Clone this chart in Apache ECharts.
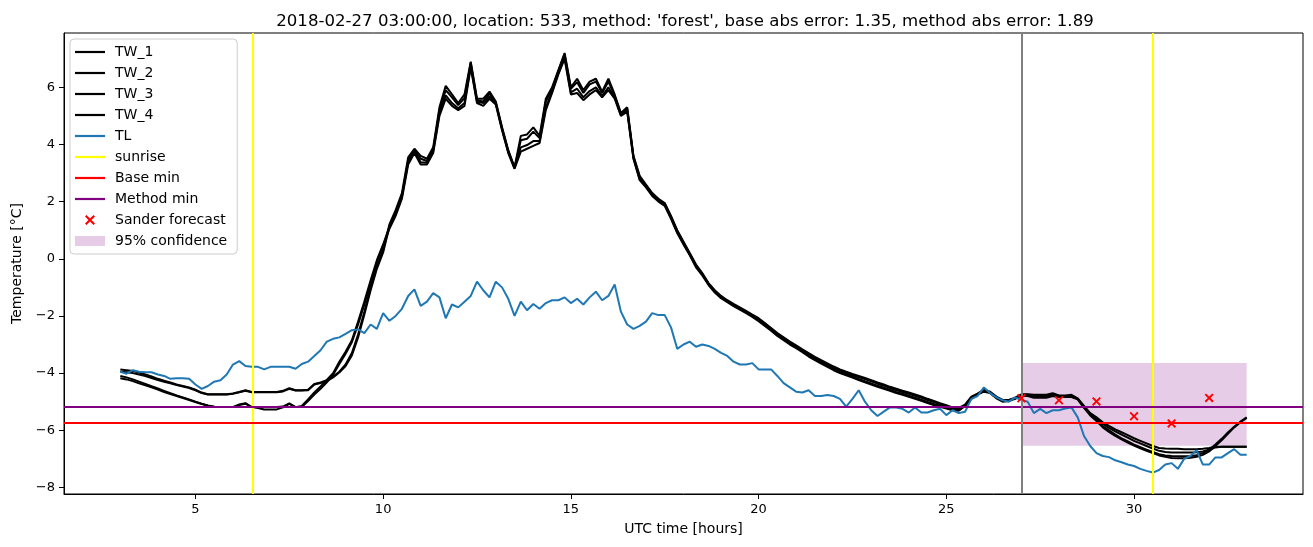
<!DOCTYPE html>
<html>
<head>
<meta charset="utf-8">
<script src="https://cdn.jsdelivr.net/npm/echarts@6/dist/echarts.min.js"></script>
<style>html,body{margin:0;padding:0;background:#fff}#c{width:1313px;height:547px}</style>
</head>
<body>
<div id="c"></div>
<script>
const hours = [
3,3.167,3.333,3.5,3.667,3.833,4,4.167,4.333,4.5,4.667,4.833,
5,5.167,5.333,5.5,5.667,5.833,6,6.167,6.333,6.5,6.667,6.833,
7,7.167,7.333,7.5,7.667,7.833,8,8.167,8.333,8.5,8.667,8.833,
9,9.167,9.333,9.5,9.667,9.833,10,10.167,10.333,10.5,10.667,10.833,
11,11.167,11.333,11.5,11.667,11.833,12,12.167,12.333,12.5,12.667,12.833,
13,13.167,13.333,13.5,13.667,13.833,14,14.167,14.333,14.5,14.667,14.833,
15,15.167,15.333,15.5,15.667,15.833,16,16.167,16.333,16.5,16.667,16.833,
17,17.167,17.333,17.5,17.667,17.833,18,18.167,18.333,18.5,18.667,18.833,
19,19.167,19.333,19.5,19.667,19.833,20,20.167,20.333,20.5,20.667,20.833,
21,21.167,21.333,21.5,21.667,21.833,22,22.167,22.333,22.5,22.667,22.833,
23,23.167,23.333,23.5,23.667,23.833,24,24.167,24.333,24.5,24.667,24.833,
25,25.167,25.333,25.5,25.667,25.833,26,26.167,26.333,26.5,26.667,26.833,
27,27.167,27.333,27.5,27.667,27.833,28,28.167,28.333,28.5,28.667,28.833,
29,29.167,29.333,29.5,29.667,29.833,30,30.167,30.333,30.5,30.667,30.833,
31,31.167,31.333,31.5,31.667,31.833,32,32.167,32.333,32.5,32.667,32.833,
33];

const TW_1 = [
-3.87,-3.90,-3.93,-3.98,-4.05,-4.12,-4.20,-4.27,-4.33,-4.40,
-4.45,-4.50,-4.58,-4.68,-4.74,-4.74,-4.74,-4.74,-4.71,-4.66,
-4.60,-4.66,-4.66,-4.66,-4.66,-4.66,-4.62,-4.53,-4.60,-4.60,
-4.58,-4.38,-4.33,-4.25,-4.12,-3.95,-3.70,-3.30,-2.65,-1.85,
-1.00,-0.28,0.30,1.20,1.70,2.30,3.55,3.85,3.60,3.50,
3.90,5.30,6.05,5.75,5.45,5.75,6.90,5.60,5.60,5.85,
5.50,4.60,3.80,3.20,4.30,4.35,4.60,4.30,5.60,6.00,
6.60,7.20,6.00,6.30,5.90,6.20,6.30,5.85,6.30,5.75,
5.10,5.30,3.60,2.90,2.60,2.30,2.10,1.95,1.50,1.00,
0.60,0.20,-0.20,-0.50,-0.85,-1.10,-1.30,-1.45,-1.58,-1.70,
-1.82,-1.95,-2.08,-2.25,-2.42,-2.60,-2.75,-2.90,-3.03,-3.17,
-3.30,-3.43,-3.55,-3.66,-3.77,-3.87,-3.95,-4.03,-4.10,-4.17,
-4.25,-4.33,-4.40,-4.48,-4.55,-4.62,-4.68,-4.75,-4.82,-4.90,
-4.97,-5.05,-5.12,-5.20,-5.22,-5.10,-4.82,-4.72,-4.58,-4.65,
-4.82,-4.94,-4.94,-4.86,-4.74,-4.74,-4.76,-4.76,-4.76,-4.70,
-4.78,-4.78,-4.76,-4.88,-5.15,-5.40,-5.55,-5.72,-5.85,-5.97,
-6.07,-6.17,-6.28,-6.37,-6.46,-6.55,-6.62,-6.64,-6.65,-6.65,
-6.66,-6.66,-6.66,-6.65,-6.62,-6.58,-6.58,-6.58,-6.58,-6.58,
-6.58];

const TW_2 = [
-3.95,-3.97,-4.00,-4.05,-4.10,-4.17,-4.24,-4.30,-4.36,-4.42,
-4.47,-4.52,-4.60,-4.70,-4.75,-4.75,-4.75,-4.75,-4.72,-4.67,
-4.62,-4.67,-4.67,-4.67,-4.67,-4.67,-4.64,-4.55,-4.61,-4.61,
-4.60,-4.40,-4.35,-4.28,-4.15,-3.98,-3.75,-3.38,-2.75,-1.95,
-1.10,-0.35,0.22,1.12,1.60,2.20,3.45,3.80,3.50,3.42,
3.82,5.20,5.90,5.65,5.38,5.62,6.85,5.55,5.50,5.78,
5.47,4.57,3.77,3.18,4.15,4.20,4.45,4.22,5.50,5.95,
6.56,7.15,5.95,6.18,5.80,6.10,6.20,5.80,6.20,5.70,
5.07,5.26,3.57,2.86,2.57,2.27,2.07,1.92,1.47,0.97,
0.57,0.17,-0.23,-0.53,-0.88,-1.13,-1.33,-1.48,-1.61,-1.73,
-1.85,-1.98,-2.11,-2.28,-2.45,-2.63,-2.78,-2.93,-3.06,-3.20,
-3.34,-3.47,-3.59,-3.70,-3.81,-3.91,-3.99,-4.07,-4.14,-4.21,
-4.29,-4.37,-4.44,-4.52,-4.59,-4.66,-4.72,-4.79,-4.86,-4.94,
-5.01,-5.09,-5.16,-5.23,-5.25,-5.12,-4.85,-4.73,-4.60,-4.67,
-4.84,-4.96,-4.95,-4.88,-4.76,-4.76,-4.79,-4.79,-4.79,-4.73,
-4.80,-4.80,-4.79,-4.90,-5.17,-5.43,-5.60,-5.77,-5.92,-6.04,
-6.15,-6.26,-6.37,-6.46,-6.55,-6.64,-6.72,-6.76,-6.78,-6.78,
-6.78,-6.78,-6.77,-6.74,-6.68,-6.60,-6.58,-6.58,-6.58,-6.58,
-6.58];

const TW_3 = [
-4.10,-4.15,-4.22,-4.30,-4.38,-4.46,-4.54,-4.62,-4.70,-4.78,
-4.85,-4.92,-5.00,-5.07,-5.13,-5.18,-5.19,-5.19,-5.19,-5.10,
-5.05,-5.19,-5.19,-5.19,-5.19,-5.19,-5.17,-5.06,-5.19,-5.15,
-4.92,-4.68,-4.47,-4.24,-4.00,-3.60,-3.25,-2.85,-2.20,-1.50,
-0.75,-0.05,0.50,1.12,1.58,2.18,3.38,3.75,3.38,3.36,
3.76,5.10,5.72,5.45,5.27,5.45,6.75,5.50,5.45,5.68,
5.43,4.53,3.73,3.17,3.90,3.98,4.12,4.12,5.30,5.85,
6.50,7.05,5.82,5.95,5.65,5.87,6.00,5.70,6.00,5.65,
5.03,5.19,3.53,2.79,2.53,2.23,2.03,1.88,1.43,0.93,
0.53,0.15,-0.26,-0.55,-0.89,-1.15,-1.35,-1.49,-1.63,-1.75,
-1.87,-2.00,-2.14,-2.31,-2.48,-2.66,-2.81,-2.96,-3.09,-3.23,
-3.38,-3.51,-3.63,-3.74,-3.86,-3.96,-4.04,-4.12,-4.20,-4.28,
-4.36,-4.44,-4.51,-4.58,-4.66,-4.72,-4.79,-4.86,-4.93,-5.01,
-5.08,-5.14,-5.20,-5.27,-5.29,-5.13,-4.87,-4.74,-4.62,-4.68,
-4.86,-4.98,-4.96,-4.88,-4.78,-4.78,-4.84,-4.84,-4.84,-4.77,
-4.82,-4.82,-4.82,-4.90,-5.20,-5.45,-5.64,-5.85,-6.00,-6.15,
-6.28,-6.39,-6.50,-6.59,-6.68,-6.76,-6.84,-6.88,-6.90,-6.91,
-6.91,-6.90,-6.87,-6.80,-6.68,-6.50,-6.30,-6.08,-5.88,-5.70,
-5.55];

const TW_4 = [
-4.18,-4.22,-4.28,-4.36,-4.43,-4.50,-4.58,-4.66,-4.73,-4.80,
-4.87,-4.94,-5.01,-5.08,-5.14,-5.18,-5.19,-5.19,-5.19,-5.12,
-5.07,-5.19,-5.22,-5.27,-5.27,-5.27,-5.20,-5.08,-5.19,-5.19,
-4.98,-4.75,-4.55,-4.32,-4.06,-3.68,-3.32,-2.92,-2.30,-1.60,
-0.85,-0.12,0.45,1.05,1.50,2.10,3.30,3.70,3.30,3.30,
3.70,5.00,5.60,5.35,5.20,5.35,6.70,5.45,5.35,5.60,
5.40,4.50,3.70,3.15,3.75,3.85,3.95,4.05,5.20,5.80,
6.45,7.00,5.75,5.80,5.55,5.75,5.90,5.65,5.90,5.60,
5.00,5.15,3.50,2.75,2.50,2.20,2.00,1.85,1.40,0.90,
0.50,0.12,-0.30,-0.58,-0.92,-1.18,-1.38,-1.52,-1.66,-1.78,
-1.90,-2.03,-2.18,-2.35,-2.52,-2.70,-2.85,-3.00,-3.13,-3.27,
-3.42,-3.55,-3.67,-3.78,-3.90,-4.00,-4.08,-4.16,-4.24,-4.32,
-4.40,-4.48,-4.55,-4.62,-4.70,-4.76,-4.83,-4.90,-4.97,-5.05,
-5.12,-5.18,-5.24,-5.30,-5.32,-5.15,-4.90,-4.75,-4.65,-4.70,
-4.88,-5.00,-4.98,-4.90,-4.80,-4.80,-4.86,-4.86,-4.86,-4.80,
-4.84,-4.84,-4.84,-4.92,-5.22,-5.48,-5.68,-5.90,-6.06,-6.20,
-6.32,-6.43,-6.54,-6.63,-6.72,-6.80,-6.88,-6.93,-6.97,-6.98,
-6.98,-6.96,-6.93,-6.86,-6.74,-6.55,-6.35,-6.12,-5.90,-5.72,
-5.57];

const TL = [
-3.95,-4.02,-3.90,-3.95,-3.97,-3.97,-4.05,-4.10,-4.20,-4.18,
-4.18,-4.20,-4.40,-4.55,-4.45,-4.30,-4.25,-4.05,-3.70,-3.58,
-3.75,-3.78,-3.78,-3.87,-3.78,-3.78,-3.78,-3.78,-3.85,-3.68,
-3.60,-3.40,-3.20,-2.90,-2.80,-2.75,-2.63,-2.50,-2.47,-2.60,
-2.30,-2.45,-1.90,-2.17,-2.00,-1.75,-1.30,-1.07,-1.65,-1.50,
-1.20,-1.35,-2.08,-1.60,-1.70,-1.50,-1.30,-0.80,-1.10,-1.35,
-0.80,-1.00,-1.40,-2.00,-1.50,-1.80,-1.58,-1.75,-1.55,-1.45,
-1.45,-1.35,-1.55,-1.40,-1.60,-1.35,-1.15,-1.45,-1.30,-0.90,
-1.85,-2.30,-2.45,-2.35,-2.20,-1.90,-1.97,-1.97,-2.40,-3.15,
-3.00,-2.90,-3.08,-3.00,-3.05,-3.15,-3.29,-3.40,-3.60,-3.70,
-3.70,-3.65,-3.87,-3.87,-3.87,-4.10,-4.35,-4.50,-4.65,-4.68,
-4.60,-4.80,-4.80,-4.77,-4.80,-4.90,-5.17,-4.90,-4.60,-5.00,
-5.30,-5.50,-5.35,-5.20,-5.20,-5.25,-5.38,-5.20,-5.38,-5.38,
-5.30,-5.25,-5.47,-5.30,-5.40,-5.35,-4.90,-4.80,-4.50,-4.70,
-4.85,-4.95,-5.00,-4.85,-4.94,-5.00,-5.40,-5.25,-5.40,-5.30,
-5.30,-5.24,-5.20,-5.55,-6.20,-6.55,-6.80,-6.90,-6.94,-7.05,
-7.12,-7.20,-7.25,-7.35,-7.42,-7.48,-7.39,-7.20,-7.15,-7.35,
-7.00,-6.90,-6.70,-7.20,-7.20,-6.95,-6.95,-6.80,-6.66,-6.86,
-6.86];

const sunriseTimes = [6.53, 30.51];
const forecastTime = [27];
const baseMin = [-5.75];
const methodMin = [-5.19];
const sanderTimes = [27, 28, 29, 30, 31, 32];
const sanderValues = [-4.88, -4.95, -4.99, -5.51, -5.76, -4.87];
const confTimes = [27, 33];
const confRange = [-6.54, -3.65];
const xTicks = [5, 10, 15, 20, 25, 30];
const yTicks = [-8, -6, -4, -2, 0, 2, 4, 6];

const FONT = 'DejaVu Sans';
const pairs = arr => hours.map((h, i) => [h, arr[i]]);
const lineIcon = 'path://M0,0H30V2.2H0Z';
const xIcon = 'path://M0,1.5L1.5,0L5,3.5L8.5,0L10,1.5L6.5,5L10,8.5L8.5,10L5,6.5L1.5,10L0,8.5L3.5,5Z';
const fmtNum = v => String(v).replace('-', '\u2212');

const twSeries = [['TW_1', TW_1], ['TW_2', TW_2], ['TW_3', TW_3], ['TW_4', TW_4]].map(([n, d]) => ({
  name: n, type: 'line', data: pairs(d), symbol: 'none', showSymbol: false,
  lineStyle: {color: '#000', width: 2}, itemStyle: {color: '#000'}, z: 3, silent: true
}));

const chart = echarts.init(document.getElementById('c'), null, {renderer: 'canvas'});
chart.setOption({
  animation: false,
  backgroundColor: '#fff',
  textStyle: {fontFamily: FONT},
  title: {
    text: "2018-02-27 03:00:00, location: 533, method: 'forest', base abs error: 1.35, method abs error: 1.89",
    left: 680, top: 8, textAlign: 'center',
    textStyle: {fontFamily: FONT, fontSize: 16.6, fontWeight: 'normal', color: '#000'}
  },
  grid: {left: 64, right: 10, top: 33, bottom: 53, show: true, borderColor: '#000', borderWidth: 1, backgroundColor: 'transparent'},
  legend: {
    orient: 'vertical', left: 70, top: 39,
    itemWidth: 30, itemHeight: 10, itemGap: 7,
    symbolKeepAspect: true,
    backgroundColor: 'rgba(255,255,255,0.8)', borderColor: '#cccccc', borderWidth: 1, borderRadius: 4,
    padding: [6, 10, 6, 5],
    textStyle: {fontFamily: FONT, fontSize: 14, lineHeight: 14, color: '#000', padding: [0, 0, 0, 5]},
    selectedMode: false,
    data: [
      {name: 'TW_1', icon: lineIcon, itemStyle: {color: '#000'}},
      {name: 'TW_2', icon: lineIcon, itemStyle: {color: '#000'}},
      {name: 'TW_3', icon: lineIcon, itemStyle: {color: '#000'}},
      {name: 'TW_4', icon: lineIcon, itemStyle: {color: '#000'}},
      {name: 'TL', icon: lineIcon, itemStyle: {color: '#1f77b4'}},
      {name: 'sunrise', icon: lineIcon, itemStyle: {color: '#ffff00'}},
      {name: 'Base min', icon: lineIcon, itemStyle: {color: '#ff0000'}},
      {name: 'Method min', icon: lineIcon, itemStyle: {color: '#800080'}},
      {name: 'Sander forecast', icon: xIcon, itemStyle: {color: '#ff0000'}},
      {name: '95% confidence', icon: 'rect', itemStyle: {color: 'rgba(128,0,128,0.2)'}}
    ]
  },
  xAxis: {
    type: 'value', min: 1.5, max: 34.5,
    name: 'UTC time [hours]', nameLocation: 'middle', nameGap: 28,
    nameTextStyle: {fontFamily: FONT, fontSize: 14, color: '#000'},
    axisLine: {show: true, onZero: false, lineStyle: {color: '#000', width: 1}},
    axisTick: {show: true, length: 5, lineStyle: {color: '#000'}, customValues: xTicks},
    axisLabel: {show: true, margin: 9, fontFamily: FONT, fontSize: 13, color: '#000', customValues: xTicks, formatter: fmtNum},
    splitLine: {show: false}
  },
  yAxis: {
    type: 'value', min: -8.23, max: 7.9,
    name: 'Temperature [\u00b0C]', nameLocation: 'middle', nameGap: 40, nameRotate: 90,
    nameTextStyle: {fontFamily: FONT, fontSize: 14, color: '#000'},
    axisLine: {show: true, onZero: false, lineStyle: {color: '#000', width: 1}},
    axisTick: {show: true, length: 5, lineStyle: {color: '#000'}, customValues: yTicks},
    axisLabel: {show: true, margin: 9, fontFamily: FONT, fontSize: 13, color: '#000', customValues: yTicks, formatter: fmtNum},
    splitLine: {show: false}
  },
  series: [
    {
      name: '95% confidence', type: 'line', data: [], z: 1, silent: true,
      itemStyle: {color: 'rgba(128,0,128,0.2)'}, lineStyle: {color: 'rgba(128,0,128,0.2)'},
      markArea: {silent: true, itemStyle: {color: 'rgba(128,0,128,0.2)'}, label: {show: false},
        data: [[{xAxis: confTimes[0], yAxis: confRange[0]}, {xAxis: confTimes[1], yAxis: confRange[1]}]]}
    },
    ...twSeries,
    {
      name: 'TL', type: 'line', data: pairs(TL), symbol: 'none', showSymbol: false,
      lineStyle: {color: '#1f77b4', width: 2}, itemStyle: {color: '#1f77b4'}, z: 4, silent: true
    },
    {
      name: 'sunrise', type: 'line', data: [], z: 5, silent: true,
      itemStyle: {color: '#ffff00'}, lineStyle: {color: '#ffff00', width: 2},
      markLine: {silent: true, symbol: 'none', label: {show: false}, animation: false,
        lineStyle: {color: '#ffff00', width: 2, type: 'solid'},
        data: sunriseTimes.map(t => ({xAxis: t}))}
    },
    {
      name: 'Base min', type: 'line', data: [], z: 5, silent: true,
      itemStyle: {color: '#ff0000'}, lineStyle: {color: '#ff0000', width: 2},
      markLine: {silent: true, symbol: 'none', label: {show: false},
        lineStyle: {color: '#ff0000', width: 2, type: 'solid'},
        data: baseMin.map(v => ({yAxis: v}))}
    },
    {
      name: 'Method min', type: 'line', data: [], z: 5, silent: true,
      itemStyle: {color: '#800080'}, lineStyle: {color: '#800080', width: 2},
      markLine: {silent: true, symbol: 'none', label: {show: false},
        lineStyle: {color: '#800080', width: 2, type: 'solid'},
        data: methodMin.map(v => ({yAxis: v}))}
    },
    {
      name: 'forecast time', type: 'line', data: [], z: 5, silent: true,
      itemStyle: {color: '#808080'}, lineStyle: {color: '#808080', width: 2},
      markLine: {silent: true, symbol: 'none', label: {show: false},
        lineStyle: {color: '#808080', width: 2, type: 'solid'},
        data: forecastTime.map(t => ({xAxis: t}))}
    },
    {
      name: 'Sander forecast', type: 'scatter', z: 6, silent: true,
      data: sanderTimes.map((t, i) => [t, sanderValues[i]]),
      symbol: xIcon, symbolSize: 9, itemStyle: {color: '#ff0000', opacity: 1}
    }
  ]
});
</script>
</body>
</html>
